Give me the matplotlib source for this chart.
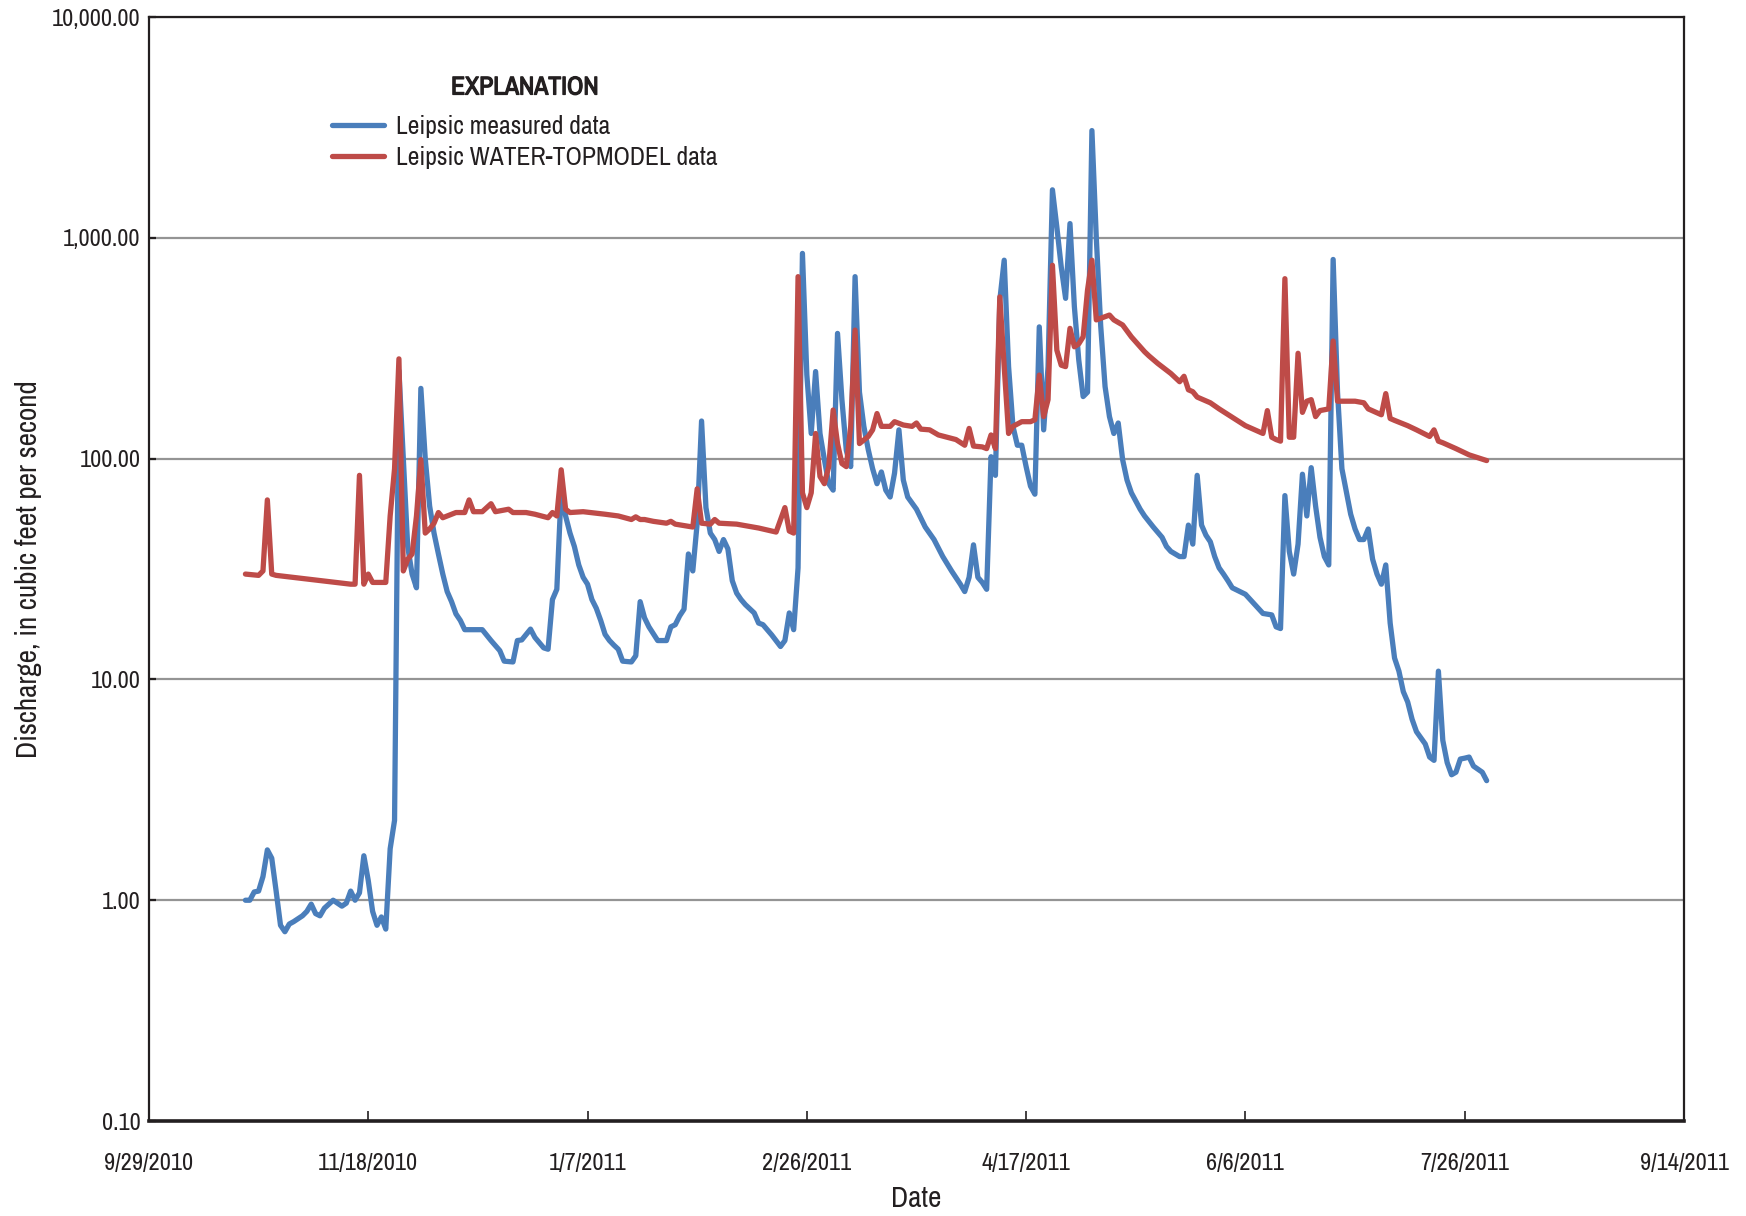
import numpy as np
import pandas as pd
import matplotlib
matplotlib.use("Agg")
import matplotlib.pyplot as plt
import matplotlib.patheffects as pe
from matplotlib import font_manager
from matplotlib.ticker import FuncFormatter, FixedLocator, NullLocator

# pick a narrow face if one is around, else squeeze DejaVu
narrow = [f.name for f in font_manager.fontManager.ttflist
          if 'Narrow' in f.name or 'Condensed' in f.name]
plt.rcParams['font.family'] = sorted(set(narrow)) + ['DejaVu Sans']
plt.rcParams['font.stretch'] = 'condensed'

# daily discharge, Leipsic, water year 2011 (days counted from 9/29/2010)
DAY0 = pd.Timestamp("2010-09-29")

meas_day = [22, 23, 24, 25, 26, 27, 28, 29, 30, 31, 32, 33, 35, 36, 37, 38, 39, 40, 42, 44,
            45, 46, 47, 48, 49, 50, 51, 52, 53, 54, 55, 56, 57, 58, 59, 60, 61, 62, 63, 64,
            65, 66, 67, 68, 69, 70, 71, 72, 74, 76, 78, 80, 81, 83, 84, 85, 87, 88, 90, 91,
            92, 93, 94, 95, 96, 97, 98, 99, 100, 101, 102, 103, 104, 105, 106, 107, 108, 110, 111, 112,
            113, 114, 116, 118, 119, 120, 121, 122, 123, 124, 125, 126, 127, 128, 129, 130, 131, 132, 133, 134,
            135, 136, 138, 139, 140, 142, 144, 145, 146, 147, 148, 149, 150, 151, 152, 153, 154, 155, 156, 157,
            158, 159, 160, 161, 162, 163, 164, 165, 166, 167, 168, 169, 170, 171, 172, 173, 175, 177, 179, 181,
            183, 185, 186, 187, 188, 189, 190, 191, 192, 193, 194, 195, 196, 197, 198, 199, 200, 201, 202, 203,
            204, 205, 206, 207, 208, 209, 210, 211, 212, 213, 214, 215, 216, 217, 218, 219, 220, 221, 222, 223,
            224, 226, 227, 229, 231, 232, 233, 234, 235, 236, 237, 238, 239, 240, 241, 242, 243, 244, 245, 246,
            247, 250, 252, 254, 256, 257, 258, 259, 260, 261, 262, 263, 264, 265, 266, 267, 268, 269, 270, 271,
            272, 273, 274, 275, 276, 277, 278, 279, 280, 281, 282, 283, 284, 285, 286, 287, 288, 289, 291, 292,
            293, 294, 295, 296, 297, 298, 299, 300, 301, 302, 304, 305]
meas_cfs = [1.0, 1.0, 1.09, 1.1, 1.28, 1.69, 1.55, 1.1, 0.77, 0.72, 0.78, 0.80, 0.85, 0.89, 0.96, 0.87, 0.85, 0.92, 1.0, 0.94,
            0.97, 1.1, 1.0, 1.08, 1.59, 1.23, 0.89, 0.77, 0.84, 0.74, 1.71, 2.3, 250, 100, 40, 30, 26, 208, 100, 61,
            46, 37, 30, 25, 22.5, 19.8, 18.5, 16.8, 16.8, 16.8, 15.0, 13.5, 12.1, 12.0, 15.0, 15.1, 16.9, 15.5, 13.9, 13.7,
            23, 25.6, 72, 55, 46, 40, 33, 29, 27, 23, 21, 18.5, 16, 15, 14.3, 13.7, 12.1, 12.0, 12.8, 22.5,
            19, 17.3, 15.0, 15.0, 17.3, 17.7, 19.4, 20.8, 37, 31, 51, 148, 60, 46, 43, 38, 43, 39, 28, 24.6,
            23, 21.8, 20, 18, 17.7, 15.9, 14.1, 15, 20, 16.8, 32, 850, 240, 130, 248, 130, 99, 77, 72, 369,
            185, 109, 92, 667, 200, 140, 110, 90, 77, 87, 72, 67, 86, 135, 80, 67, 59, 49, 43, 36,
            31, 27, 25, 29, 40.7, 29, 27.5, 25.6, 102, 84, 522, 792, 261, 140, 115, 115, 92, 75, 69, 395,
            135, 261, 1650, 1120, 740, 532, 1160, 488, 280, 191, 200, 3060, 1000, 400, 212, 155, 130, 145, 99, 80,
            70, 59, 55, 49, 44, 40, 38, 37, 36, 36, 50, 41, 84, 50, 45, 42, 36, 32, 30, 28,
            26, 24.3, 22, 19.9, 19.6, 17.3, 17, 68, 38, 30, 41, 85, 55, 91, 61, 44, 36, 33, 798, 200,
            90, 71, 56, 48, 43, 43, 48, 35, 30, 27, 33, 18, 12.5, 10.9, 8.8, 7.9, 6.6, 5.8, 5.1, 4.45,
            4.3, 10.9, 5.3, 4.2, 3.7, 3.8, 4.36, 4.4, 4.45, 4.05, 3.8, 3.48]

model_day = [22, 25, 26, 27, 28, 29, 46, 47, 48, 49, 50, 51, 54, 55, 56, 57, 58, 59, 60, 61,
             62, 63, 64, 65, 66, 67, 68, 70, 72, 73, 74, 76, 78, 79, 82, 83, 86, 88, 91, 92,
             93, 94, 95, 96, 99, 104, 107, 110, 111, 112, 113, 115, 118, 119, 120, 124, 125, 126, 128, 129,
             130, 134, 139, 143, 145, 146, 147, 148, 149, 150, 151, 152, 153, 154, 155, 156, 157, 158, 159, 160,
             161, 162, 164, 165, 166, 167, 169, 170, 172, 174, 175, 176, 178, 180, 184, 186, 187, 188, 190, 191,
             192, 193, 194, 195, 196, 197, 199, 201, 202, 203, 204, 205, 206, 207, 208, 209, 210, 211, 212, 213,
             214, 215, 216, 217, 219, 220, 222, 224, 227, 228, 230, 233, 235, 236, 237, 238, 239, 242, 244, 247,
             250, 254, 255, 256, 257, 258, 259, 260, 261, 262, 263, 264, 265, 266, 267, 269, 270, 271, 275, 277,
             278, 281, 282, 283, 284, 287, 289, 292, 293, 294, 295, 298, 301, 305]
model_cfs = [30, 29.6, 31, 65, 30, 29.6, 27, 27, 84, 27, 30, 27.5, 27.5, 55, 90, 283, 31, 35, 37, 55,
             99, 46, 48, 51, 57, 54, 55, 57, 57, 65, 57.5, 57.5, 62.5, 57.5, 59, 57, 57, 56, 54, 57,
             55, 89, 59, 57, 57.5, 56, 55, 53, 54.5, 53, 53, 52, 51, 52, 50.5, 49, 73, 51, 50.5, 53,
             51, 50.5, 48.5, 46.5, 60, 47, 46, 667, 70, 60, 70, 130, 83, 77, 92, 166, 117, 95, 92, 140,
             382, 117, 126, 135, 160, 140, 140, 147, 142, 140, 145, 136, 135, 128, 122, 115, 137, 114, 113, 111,
             128, 111, 540, 261, 130, 140, 147, 147, 150, 239, 155, 185, 751, 310, 265, 261, 389, 321, 331, 356,
             580, 792, 425, 432, 447, 425, 403, 356, 305, 292, 270, 243, 223, 236, 205, 201, 190, 179, 168, 154,
             141, 130, 165, 125, 122, 120, 653, 125, 125, 300, 162, 182, 185, 155, 165, 168, 341, 182, 182, 179,
             168, 158, 197, 152, 149, 141, 135, 126, 135, 120, 118, 111, 104, 98]

y_ticks = [0.1, 1, 10, 100, 1000, 10000]
x_tick_step = 50   # days between date labels
n_x_ticks = 8

BLUE = "#4A7EBB"
RED = "#BE4B48"
INK = "#231F20"

meas_dates = DAY0 + pd.to_timedelta(meas_day, unit="D")
model_dates = DAY0 + pd.to_timedelta(model_day, unit="D")
tick_dates = [DAY0 + pd.Timedelta(days=x_tick_step * i) for i in range(n_x_ticks)]

fig = plt.figure(figsize=(17.46, 12.16), dpi=100)
ax = fig.add_axes([0.0853, 0.0781, 0.8792, 0.9079])

ax.plot(meas_dates, meas_cfs, color=BLUE, lw=3.8, solid_joinstyle='round',
        solid_capstyle='round', label="Leipsic measured data", zorder=3)
ax.plot(model_dates, model_cfs, color=RED, lw=3.8, solid_joinstyle='round',
        solid_capstyle='round', label="Leipsic WATER-TOPMODEL data", zorder=4)

ax.set_yscale('log')
ax.set_ylim(0.1, 10000)
ax.set_xlim(tick_dates[0], tick_dates[-1])

ax.yaxis.set_major_locator(FixedLocator(y_ticks))
ax.yaxis.set_minor_locator(NullLocator())
ax.yaxis.set_major_formatter(FuncFormatter(lambda v, p: "{:,.2f}".format(v)))

ax.set_xticks(tick_dates)
ax.set_xticklabels(["{}/{}/{}".format(d.month, d.day, d.year) for d in tick_dates])
ax.xaxis.set_minor_locator(NullLocator())

ax.grid(axis='y', which='major', color='#949494', lw=1.6)
ax.set_axisbelow(True)

for side in ['top', 'right', 'left']:
    ax.spines[side].set_linewidth(1.6)
    ax.spines[side].set_color(INK)
ax.spines['bottom'].set_linewidth(2.6)
ax.spines['bottom'].set_color(INK)

ax.tick_params(axis='x', direction='in', length=7, width=1.2, color=INK,
               pad=23, labelsize=17.5, labelcolor=INK)
ax.tick_params(axis='y', direction='in', length=5, width=1.6, color=INK,
               pad=6, labelsize=17.5, labelcolor=INK)

ax.set_xlabel("Date", fontsize=21, color=INK, labelpad=8)
ax.set_ylabel("Discharge, in cubic feet per second", fontsize=21, color=INK, labelpad=7)

leg = ax.legend(loc='upper left', bbox_to_anchor=(0.104, 0.968), frameon=False,
                title="EXPLANATION", fontsize=18.5, handlelength=2.05,
                handletextpad=0.45, labelspacing=0.3)
title = leg.get_title()
title.set_fontweight('bold')
title.set_fontsize(18.5)
title.set_color(INK)
title.set_path_effects([pe.withStroke(linewidth=0.9, foreground=INK)])
for t in leg.get_texts():
    t.set_color(INK)
leg._legend_box.sep = 12

fig.savefig("out.png", dpi=100)
